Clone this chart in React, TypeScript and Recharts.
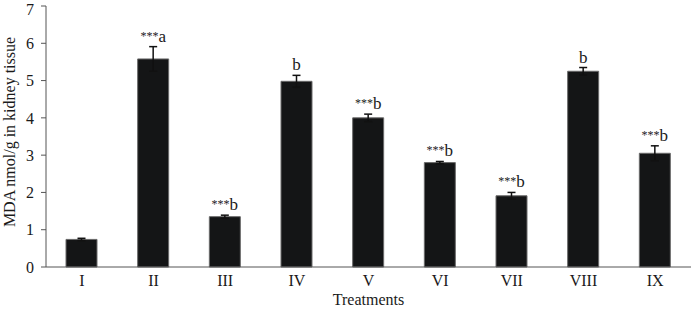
import { ComposedChart, Bar, XAxis, YAxis, ErrorBar, Label } from "recharts";

const treatments = ["I", "II", "III", "IV", "V", "VI", "VII", "VIII", "IX"];
const mdaValues = [0.74, 5.58, 1.35, 4.98, 4.0, 2.8, 1.91, 5.25, 3.05];
const mdaErrors = [0.03, 0.33, 0.04, 0.16, 0.1, 0.03, 0.09, 0.1, 0.2];
const stars = ["", "***", "***", "", "***", "***", "***", "", "***"];
const letters = ["", "a", "b", "b", "b", "b", "b", "b", "b"];
const yTicks = [0, 1, 2, 3, 4, 5, 6, 7];

const data = treatments.map((name, i) => ({
  name,
  mda: mdaValues[i],
  err: mdaErrors[i],
}));

const FONT = "'Liberation Serif', 'DejaVu Serif', serif";
const AXIS = "#555";
const INK = "#1a1a1a";

function SigLabel(props: any) {
  const { x, y, width, height, value, index } = props;
  const mark = letters[index];
  if (!mark) return null;
  // error bar top, taken from the bar's own scale
  const pxPerUnit = height / value;
  const top = y - mdaErrors[index] * pxPerUnit;
  return (
    <text
      x={x + width / 2}
      y={top - 5}
      textAnchor="middle"
      fontFamily={FONT}
      fill={INK}
      stroke="none"
    >
      {stars[index] && (
        <tspan fontSize={12} dy={-2} fill={INK}>
          {stars[index]}
        </tspan>
      )}
      <tspan fontSize={17} dy={stars[index] ? 2 : 0} fill={INK}>
        {mark}
      </tspan>
    </text>
  );
}

export default function App() {
  return (
    <div>
      <style>{"body{margin:0}"}</style>
      <ComposedChart
        width={691}
        height={310}
        data={data}
        margin={{ top: 6, right: 0, bottom: 0, left: 6 }}
      >
        <XAxis
          dataKey="name"
          tickLine={false}
          tickSize={0}
          tickMargin={8}
          stroke={AXIS}
          tick={{ fill: INK, fontSize: 16, fontFamily: FONT }}
          height={43}
        >
          <Label
            content={() => (
              <text
                x={368.5}
                y={305}
                textAnchor="middle"
                fontFamily={FONT}
                fontSize={16}
                fill={INK}
              >
                Treatments
              </text>
            )}
          />
        </XAxis>
        <YAxis
          domain={[0, 7]}
          ticks={yTicks}
          width={40}
          tickSize={5}
          tickMargin={7}
          stroke={AXIS}
          tick={{ fill: INK, fontSize: 16, fontFamily: FONT }}
        >
          <Label
            content={() => (
              <text
                x={15}
                y={132}
                transform="rotate(-90 15 132)"
                textAnchor="middle"
                fontFamily={FONT}
                fontSize={16}
                fill={INK}
              >
                MDA nmol/g in kidney tissue
              </text>
            )}
          />
        </YAxis>
        <Bar
          dataKey="mda"
          barSize={31}
          fill="#141516"
          stroke="#6a6a6a"
          strokeWidth={1}
          isAnimationActive={false}
          label={<SigLabel />}
        >
          <ErrorBar
            dataKey="err"
            width={4}
            stroke="#111"
            strokeWidth={1.5}
            isAnimationActive={false}
          />
        </Bar>
      </ComposedChart>
    </div>
  );
}
